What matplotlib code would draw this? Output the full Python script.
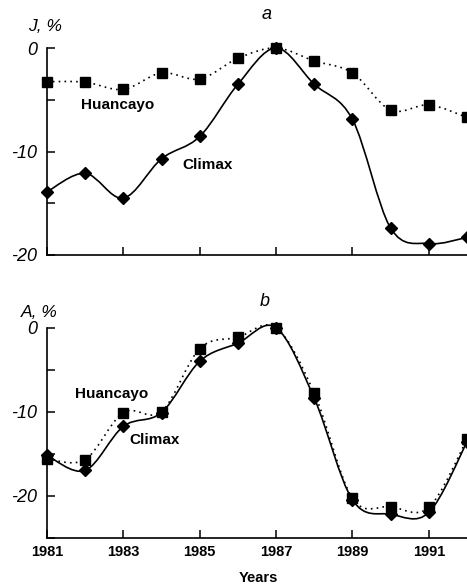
import matplotlib
import matplotlib.pyplot as plt
import numpy as np
from matplotlib.path import Path
from matplotlib.patches import PathPatch

matplotlib.use("Agg")
plt.rcParams['font.family'] = ['Liberation Sans', 'DejaVu Sans']

years = [1981, 1982, 1983, 1984, 1985, 1986, 1987, 1988, 1989, 1990, 1991, 1992]

j_huancayo = [-3.25, -3.3, -4.0, -2.4, -3.0, -1.0, 0.0, -1.25, -2.4, -6.0, -5.5, -6.7]
j_climax = [-13.9, -12.1, -14.5, -10.7, -8.55, -3.5, 0.0, -3.5, -6.9, -17.4, -18.9, -18.3]

a_huancayo = [-15.6, -15.7, -10.1, -10.0, -2.5, -1.15, 0.0, -7.8, -20.3, -21.3, -21.4, -13.3]
a_climax = [-15.2, -17.0, -11.75, -10.1, -4.0, -1.85, 0.0, -8.4, -20.5, -22.2, -22.0, -13.6]

x_ticks = [1981, 1983, 1985, 1987, 1989, 1991]


def smooth_path(x, y):
    # Catmull-Rom through the points, drawn as cubic Bezier segments
    p = np.column_stack([x, y]).astype(float)
    verts = [p[0]]
    codes = [Path.MOVETO]
    n = len(p)
    for i in range(n - 1):
        p0 = p[i - 1] if i > 0 else p[i]
        p1 = p[i]
        p2 = p[i + 1]
        p3 = p[i + 2] if i + 2 < n else p[i + 1]
        c1 = p1 + (p2 - p0) / 6.0
        c2 = p2 - (p3 - p1) / 6.0
        verts += [c1, c2, p2]
        codes += [Path.CURVE4] * 3
    return Path(verts, codes)


def draw_series(ax, y, marker, ms, ls):
    ax.add_patch(PathPatch(smooth_path(years, y), fill=False, lw=1.2,
                           ls=ls, edgecolor='black', clip_on=False))
    ax.plot(years, y, marker, color='black', ms=ms, ls='none', clip_on=False)


def style_axes(ax, ylim):
    ax.set_xlim(1981, 1992)
    ax.set_ylim(*ylim)
    for s in ('top', 'right'):
        ax.spines[s].set_visible(False)
    for s in ('left', 'bottom'):
        ax.spines[s].set_linewidth(1.2)
    ax.set_xticks(x_ticks)
    ticks = list(range(0, ylim[0] - 1, -5))
    ax.set_yticks(ticks)
    ax.set_yticklabels([str(t) if t % 10 == 0 else '' for t in ticks],
                       fontstyle='italic', fontsize=13)
    ax.tick_params(direction='in', length=6, width=1.1)
    ax.tick_params(axis='y', pad=7)
    ax.tick_params(axis='x', pad=5)


dotted = (0, (1, 2.5))

fig = plt.figure(figsize=(4.67, 5.87), dpi=100)

ax1 = fig.add_axes([0.1006, 0.5656, 0.8994, 0.3526])
draw_series(ax1, j_huancayo, 's', 7.5, dotted)
draw_series(ax1, j_climax, 'D', 6.3, '-')
style_axes(ax1, (-20, 0))
ax1.set_xticklabels([])
ax1.text(1981.9, -5.5, 'Huancayo', fontsize=11, fontweight='bold', va='center')
ax1.text(1984.55, -11.35, 'Climax', fontsize=11, fontweight='bold', va='center')
fig.text(0.06, 0.955, 'J, %', fontsize=12.5, fontstyle='italic', va='center')
fig.text(0.57, 0.976, 'a', fontsize=13, fontstyle='italic', va='center', ha='center')

ax2 = fig.add_axes([0.1006, 0.084, 0.8994, 0.3578])
draw_series(ax2, a_huancayo, 's', 7.5, dotted)
draw_series(ax2, a_climax, 'D', 6.3, '-')
style_axes(ax2, (-25, 0))
ax2.set_xticklabels([str(y) for y in x_ticks], fontweight='bold', fontsize=10.5)
ax2.text(1981.74, -7.9, 'Huancayo', fontsize=11, fontweight='bold', va='center')
ax2.text(1983.17, -13.4, 'Climax', fontsize=11, fontweight='bold', va='center')
fig.text(0.045, 0.467, 'A, %', fontsize=12.5, fontstyle='italic', va='center')
fig.text(0.567, 0.487, 'b', fontsize=13, fontstyle='italic', va='center', ha='center')
fig.text(0.553, 0.016, 'Years', fontsize=10.5, fontweight='bold', ha='center', va='center')

fig.savefig('out.png', dpi=100)
